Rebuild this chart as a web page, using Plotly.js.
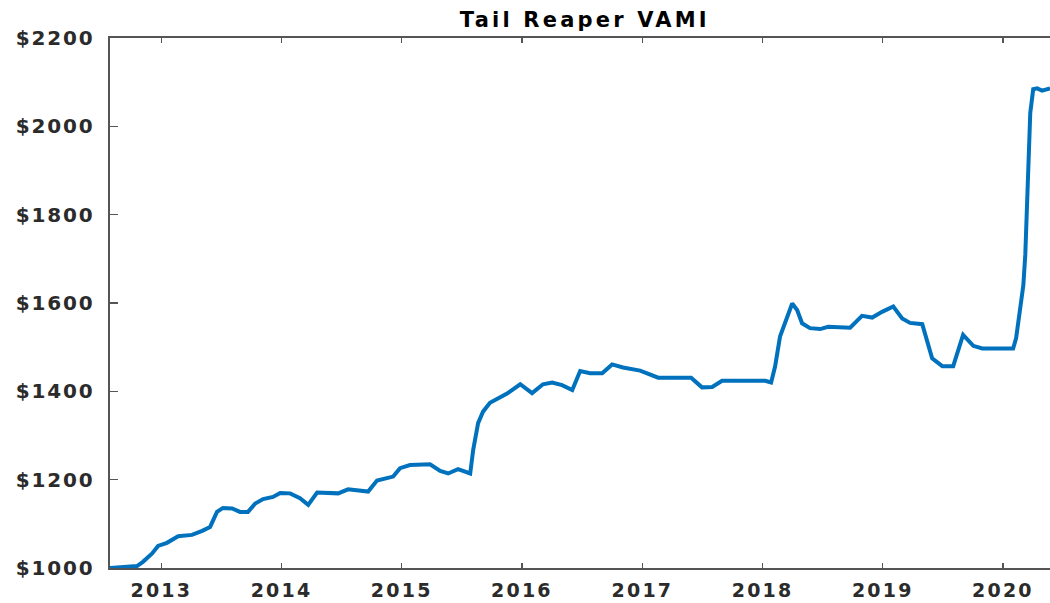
<!DOCTYPE html>
<html>
<head>
<meta charset="utf-8">
<script src="https://cdn.plot.ly/plotly-3.0.1.min.js"></script>
<style>
  html, body { margin: 0; padding: 0; background: #fff; overflow: hidden; }
  #chart { width: 1050px; height: 603px; }
  .xtick text { letter-spacing: 2.2px; }
  .ytick text { letter-spacing: 1.8px; }
  .gtitle { letter-spacing: 3.2px; }
</style>
</head>
<body>
<div id="chart"></div>
<script>
// VAMI series (value of $1000 invested)
const dates = [
  "2012-07-29","2012-09-13","2012-10-19","2012-11-06","2012-12-04","2012-12-22",
  "2013-01-18","2013-02-21","2013-04-04","2013-05-05","2013-05-29","2013-06-19",
  "2013-07-07","2013-08-04","2013-08-28","2013-09-21","2013-10-13","2013-11-06",
  "2013-12-06","2013-12-28","2014-01-27","2014-02-26","2014-03-23","2014-04-19",
  "2014-05-28","2014-06-22","2014-07-22","2014-08-18","2014-09-21","2014-10-18",
  "2014-11-18","2014-12-06","2014-12-27","2015-01-26","2015-03-28","2015-04-28",
  "2015-05-22","2015-06-21","2015-07-28","2015-08-06","2015-08-21","2015-09-05",
  "2015-09-26","2015-11-17","2015-12-27","2016-02-01","2016-03-05","2016-04-02",
  "2016-05-02","2016-06-02","2016-06-26","2016-07-26","2016-09-01","2016-10-01",
  "2016-11-03","2016-12-25","2017-02-18","2017-05-29","2017-07-01","2017-08-01",
  "2017-08-31","2018-01-09","2018-01-27","2018-02-08","2018-02-23","2018-03-11",
  "2018-04-01","2018-04-16","2018-05-01","2018-05-25","2018-06-25","2018-07-19",
  "2018-09-24","2018-10-30","2018-11-30","2018-12-30","2019-02-02","2019-03-01",
  "2019-03-25","2019-05-01","2019-05-31","2019-07-01","2019-08-03","2019-09-02",
  "2019-10-03","2019-10-30","2020-02-01","2020-02-10","2020-02-22","2020-03-03",
  "2020-03-09","2020-03-15","2020-03-19","2020-03-24","2020-04-02","2020-04-14",
  "2020-04-29","2020-05-23"
];
const vami = [
  1000, 1001.5, 1004.5, 1014, 1033, 1050,
  1057, 1072, 1075, 1084, 1093, 1127,
  1136, 1135, 1127, 1127, 1146, 1156,
  1161, 1170, 1169, 1158, 1143, 1171,
  1171, 1169, 1178, 1175, 1173, 1198,
  1203, 1207, 1226, 1233, 1235, 1220,
  1214, 1224, 1214, 1267, 1328, 1354,
  1374, 1395, 1416, 1396, 1416, 1420,
  1414, 1403, 1446, 1441, 1441, 1461,
  1454, 1447, 1431, 1431, 1409, 1410,
  1424, 1424, 1420, 1456, 1524, 1558,
  1599, 1584, 1554, 1543, 1541, 1546,
  1544, 1571, 1567, 1580, 1592, 1565,
  1555, 1552, 1475, 1457, 1457, 1528,
  1503, 1497, 1497, 1520, 1590, 1640,
  1710, 1826, 1924, 2030, 2084, 2086,
  2081, 2086
];
const yTickVals = [1000, 1200, 1400, 1600, 1800, 2000, 2200];
const yTickText = ["$1000", "$1200", "$1400", "$1600", "$1800", "$2000", "$2200"];
const xTickVals = ["2013-01-01","2014-01-01","2015-01-01","2016-01-01","2017-01-01","2018-01-01","2019-01-01","2020-01-01"];
const xTickText = ["2013","2014","2015","2016","2017","2018","2019","2020"];
const chartTitle = "Tail Reaper VAMI";

const axisColor = "#555555";
const yTickFont = { family: "DejaVu Sans", size: 20, color: "#2b2b2b", weight: "bold" };
const xTickFont = { family: "DejaVu Sans", size: 19, color: "#2b2b2b", weight: "bold" };

const trace = {
  x: dates, y: vami, type: "scatter", mode: "lines",
  line: { color: "#0072BD", width: 4 },
  hoverinfo: "x+y"
};

const layout = {
  width: 1050, height: 603,
  margin: { l: 110, r: 0, t: 38, b: 35 },
  paper_bgcolor: "#ffffff", plot_bgcolor: "#ffffff",
  showlegend: false,
  title: {
    text: chartTitle,
    font: { family: "DejaVu Sans", size: 21, color: "#000000", weight: "bold" },
    xref: "container", x: 0.557, xanchor: "center",
    yref: "container", y: 0.967, yanchor: "middle"
  },
  xaxis: {
    type: "date",
    range: ["2012-07-29", "2020-05-23"],
    tickmode: "array", tickvals: xTickVals, ticktext: xTickText,
    ticks: "inside", ticklen: 5, tickwidth: 1.5, tickcolor: axisColor,
    showline: true, linecolor: axisColor, linewidth: 1.6,
    mirror: "ticks", showgrid: false, zeroline: false,
    tickfont: xTickFont, ticklabelstandoff: 5
  },
  yaxis: {
    range: [1000, 2200],
    tickmode: "array", tickvals: yTickVals, ticktext: yTickText,
    ticks: "inside", ticklen: 8, tickwidth: 1.5, tickcolor: axisColor,
    showline: true, linecolor: axisColor, linewidth: 1.6,
    mirror: false, showgrid: false, zeroline: false,
    tickfont: yTickFont, ticklabelstandoff: 10
  }
};

Plotly.newPlot("chart", [trace], layout, { displayModeBar: false, staticPlot: true });
</script>
</body>
</html>
